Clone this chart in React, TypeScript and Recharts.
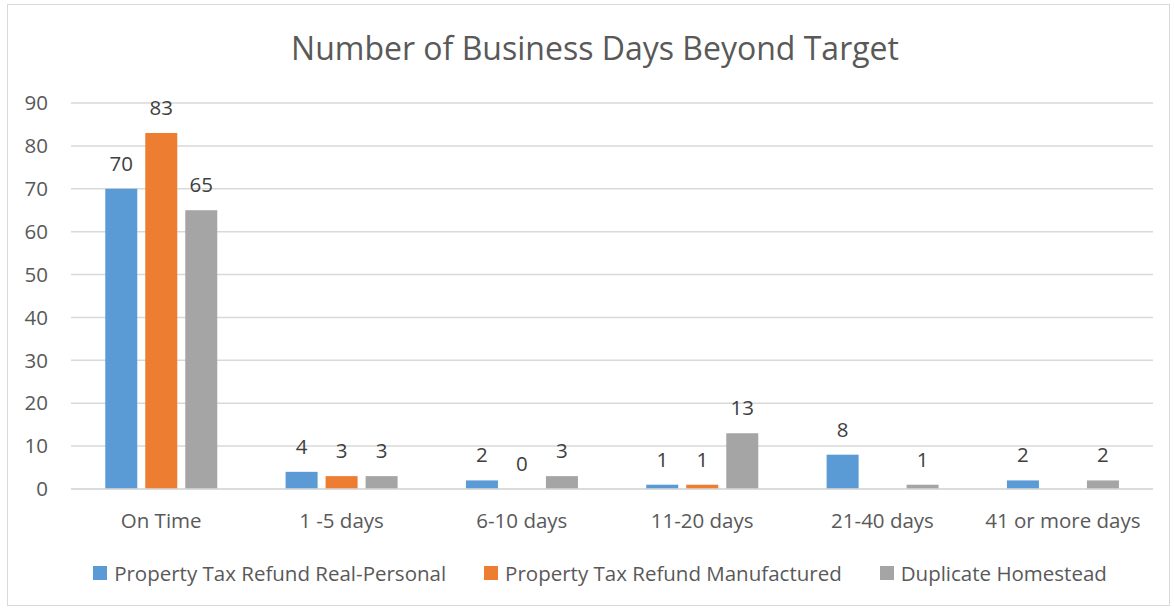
import React from "react";
import {
  BarChart,
  Bar,
  XAxis,
  YAxis,
  CartesianGrid,
} from "recharts";

const categories = [
  "On Time",
  "1 -5 days",
  "6-10 days",
  "11-20 days",
  "21-40 days",
  "41 or more days",
];
const realPersonal = [70, 4, 2, 1, 8, 2];
const manufactured: (number | null)[] = [83, 3, 0, 1, null, null];
const duplicateHomestead = [65, 3, 3, 13, 1, 2];
const yTicks = [0, 10, 20, 30, 40, 50, 60, 70, 80, 90];

const SERIES = [
  { key: "realPersonal", name: "Property Tax Refund Real-Personal", color: "#5B9BD5" },
  { key: "manufactured", name: "Property Tax Refund Manufactured", color: "#ED7D31" },
  { key: "duplicateHomestead", name: "Duplicate Homestead", color: "#A5A5A5" },
];

const rows = categories.map((name, i) => ({
  name,
  realPersonal: realPersonal[i],
  manufactured: manufactured[i],
  duplicateHomestead: duplicateHomestead[i],
}));

const FONT = "'Open Sans', sans-serif";

function ChartLegend() {
  return (
    <div
      style={{
        position: "absolute",
        top: 559,
        left: 13,
        width: 1174,
        display: "flex",
        justifyContent: "center",
        gap: 38,
        fontFamily: FONT,
        fontSize: 20.5,
        color: "#595959",
      }}
    >
      {SERIES.map((s) => (
        <div key={s.key} style={{ display: "flex", alignItems: "center" }}>
          <span
            style={{
              width: 14,
              height: 14,
              background: s.color,
              marginRight: 7,
              display: "inline-block",
            }}
          />
          {s.name}
        </div>
      ))}
    </div>
  );
}

// bar shape that also draws its value label, so zero-height bars still get one
function BarWithLabel(props: any) {
  const { x, y, width, height, fill, value } = props;
  const v = Array.isArray(value) ? value[1] - value[0] : value;
  if (v === null || v === undefined) return null;
  return (
    <g>
      {height > 0 && <rect x={x} y={y} width={width} height={height} fill={fill} />}
      <text
        x={x + width / 2}
        y={y - 18}
        textAnchor="middle"
        fill="#404040"
        fontSize={20.5}
        fontFamily={FONT}
      >
        {v}
      </text>
    </g>
  );
}

export default function App() {
  return (
    <div
      style={{
        position: "absolute",
        left: 0,
        top: 0,
        width: 1174,
        height: 608,
        background: "#fff",
      }}
    >
      <div
        style={{
          position: "absolute",
          left: 7,
          top: 4,
          width: 1161,
          height: 600,
          border: "1px solid #d9d9d9",
        }}
      />
      <div
        style={{
          position: "absolute",
          top: 26,
          width: 1190,
          textAlign: "center",
          fontFamily: FONT,
          fontSize: 32,
          color: "#595959",
        }}
      >
        Number of Business Days Beyond Target
      </div>
      <div style={{ position: "absolute", left: 0, top: 0 }}>
        <BarChart
          width={1174}
          height={608}
          data={rows}
          margin={{ top: 103, right: 21, left: 11, bottom: 0 }}
          barCategoryGap="19%"
          barGap={8}
        >
          <CartesianGrid vertical={false} stroke="#d9d9d9" strokeWidth={1.5} />
          <XAxis
            dataKey="name"
            axisLine={{ stroke: "#d9d9d9", strokeWidth: 1.5 }}
            tickLine={false}
            tick={{ fill: "#595959", fontSize: 20.5, fontFamily: FONT }}
            tickMargin={18}
            height={119}
            interval={0}
          />
          <YAxis
            domain={[0, 90]}
            ticks={yTicks}
            axisLine={false}
            tickLine={false}
            tickSize={0}
            tickMargin={23}
            width={60}
            tick={{ fill: "#595959", fontSize: 20.5, fontFamily: FONT }}
          />
          {SERIES.map((s) => (
            <Bar
              key={s.key}
              dataKey={s.key}
              name={s.name}
              fill={s.color}
              shape={<BarWithLabel />}
              isAnimationActive={false}
            />
          ))}
        </BarChart>
      </div>
      <ChartLegend />
    </div>
  );
}
